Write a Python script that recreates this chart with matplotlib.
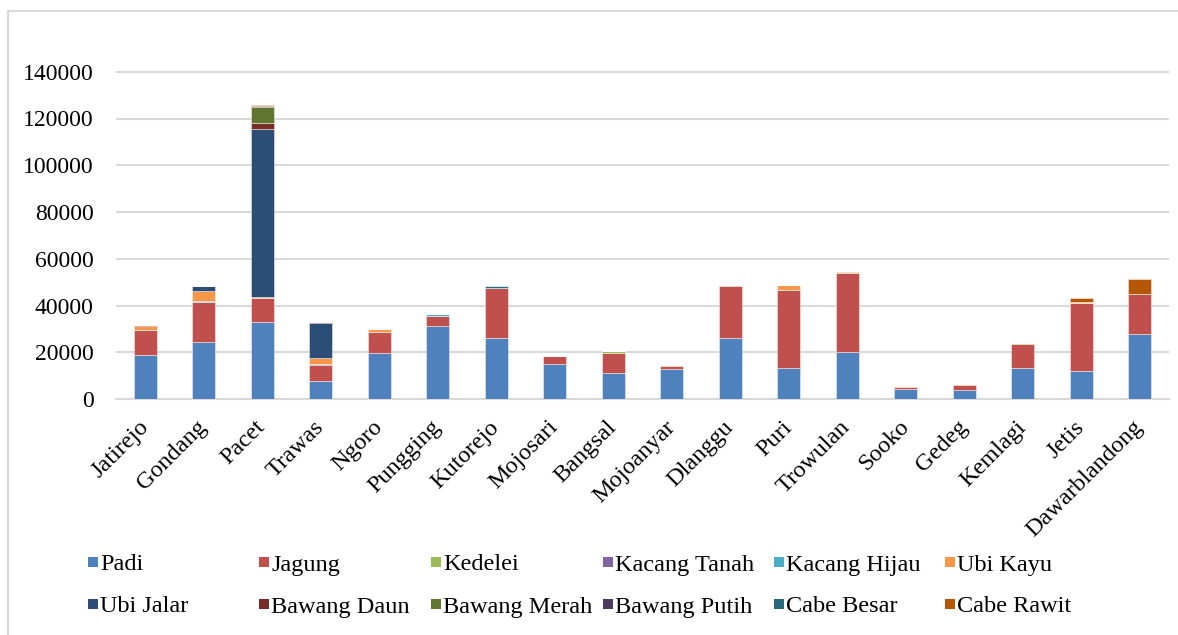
import matplotlib
matplotlib.use("Agg")
import matplotlib.pyplot as plt
from matplotlib.patches import Rectangle
import numpy as np

plt.rcParams['font.family'] = ['Liberation Serif', 'DejaVu Serif']

kecamatan = ["Jatirejo", "Gondang", "Pacet", "Trawas", "Ngoro", "Pungging", "Kutorejo",
             "Mojosari", "Bangsal", "Mojoanyar", "Dlanggu", "Puri", "Trowulan", "Sooko",
             "Gedeg", "Kemlagi", "Jetis", "Dawarblandong"]

padi         = [18700, 24400, 33000, 7600, 19700, 31100, 26100, 15000, 11000, 12700, 26300, 13100, 20200, 4300, 4000, 13400, 12000, 27900]
jagung       = [10900, 17100, 10000, 7000, 9000, 4300, 21300, 3300, 8800, 1400, 22100, 33700, 33700, 700, 2000, 10100, 29100, 17000]
kedelei      = [0, 0, 0, 0, 0, 0, 0, 0, 700, 400, 400, 0, 600, 0, 0, 300, 0, 0]
kacang_tanah = [0, 0, 0, 400, 0, 0, 0, 0, 0, 0, 0, 0, 0, 0, 0, 0, 0, 0]
kacang_hijau = [0, 300, 0, 0, 0, 1000, 0, 0, 0, 0, 0, 0, 0, 0, 0, 0, 0, 0]
ubi_kayu     = [1700, 4600, 500, 2500, 1400, 0, 0, 0, 0, 0, 0, 2000, 400, 400, 300, 0, 300, 0]
ubi_jalar    = [0, 2000, 72000, 15100, 0, 0, 0, 0, 0, 0, 0, 0, 0, 0, 0, 0, 0, 0]
bawang_daun  = [300, 0, 2600, 300, 0, 0, 0, 0, 0, 0, 0, 0, 0, 0, 0, 0, 0, 0]
bawang_merah = [0, 0, 6700, 0, 0, 0, 0, 0, 0, 0, 0, 0, 0, 0, 0, 0, 0, 0]
bawang_putih = [0, 0, 500, 0, 0, 0, 0, 0, 0, 0, 0, 0, 0, 0, 0, 0, 0, 0]
cabe_besar   = [0, 0, 0, 0, 0, 0, 1100, 0, 0, 0, 0, 0, 0, 0, 0, 0, 0, 0]
cabe_rawit   = [0, 0, 500, 0, 0, 0, 0, 0, 0, 0, 0, 0, 0, 0, 0, 0, 1600, 6300]

series_names = ["Padi", "Jagung", "Kedelei", "Kacang Tanah", "Kacang Hijau", "Ubi Kayu",
                "Ubi Jalar", "Bawang Daun", "Bawang Merah", "Bawang Putih", "Cabe Besar", "Cabe Rawit"]
series_values = [padi, jagung, kedelei, kacang_tanah, kacang_hijau, ubi_kayu,
                 ubi_jalar, bawang_daun, bawang_merah, bawang_putih, cabe_besar, cabe_rawit]
colors = ["#4F81BD", "#C0504D", "#9BBB59", "#8064A2", "#4BACC6", "#F79646",
          "#2C4D75", "#772C2A", "#5F7530", "#4D3B62", "#276A7C", "#B65708"]

yticks = [0, 20000, 40000, 60000, 80000, 100000, 120000, 140000]

fig = plt.figure(figsize=(11.78, 6.35), dpi=100)
# outer border (extends past right and bottom edges as in the reference)
fig.patches.append(Rectangle((8/1178, -5/635), 1180/1178, (635 - 11 + 5)/635, transform=fig.transFigure,
                             fill=False, edgecolor="#D9D9D9", linewidth=1.5))

ax = fig.add_axes([116/1178, 1 - 399/635, 1053/1178, (399 - 25)/635])
x = np.arange(len(kecamatan))
bottom = np.zeros(len(kecamatan))
for name, vals, c in zip(series_names, series_values, colors):
    v = np.array(vals, dtype=float)
    ax.bar(x, v, width=0.4, bottom=bottom, color=c, edgecolor=(1, 1, 1, 0.5), linewidth=0.6,
           label=name, zorder=3)
    bottom += v

ax.set_xlim(-0.5, len(kecamatan) - 0.5)
ax.set_ylim(0, 160000)
ax.set_yticks(yticks)
ax.set_yticklabels([str(t) for t in yticks], fontsize=17)
ax.yaxis.grid(True, color="#D9D9D9", linewidth=1.5, zorder=0)
ax.set_axisbelow(True)
ax.tick_params(axis='both', length=0)
ax.tick_params(axis='y', pad=16)
for s in ["top", "right", "left"]:
    ax.spines[s].set_visible(False)
ax.spines["bottom"].set_color("#D9D9D9")
ax.spines["bottom"].set_linewidth(1.5)
ax.set_xticks(x)
ax.set_xticklabels(kecamatan, rotation=45, ha="right", va="center", rotation_mode="anchor", fontsize=17.5)
ax.tick_params(axis='x', pad=18)

# legend drawn as Excel-style fixed-width columns
col_x = [88, 259, 431, 603, 774, 945]
row_y = [563, 605]
for i, (name, c) in enumerate(zip(series_names, colors)):
    r, k = divmod(i, 6)
    px, py = col_x[k], row_y[r]
    fig.patches.append(Rectangle((px / 1178, 1 - (py + 4) / 635), 10 / 1178, 10 / 635,
                                 transform=fig.transFigure, facecolor=c, edgecolor="none"))
    fig.text((px + 12) / 1178, 1 - (py + 2) / 635, name, fontsize=17.5, va="center", ha="left")

fig.savefig("out.png", dpi=100)
